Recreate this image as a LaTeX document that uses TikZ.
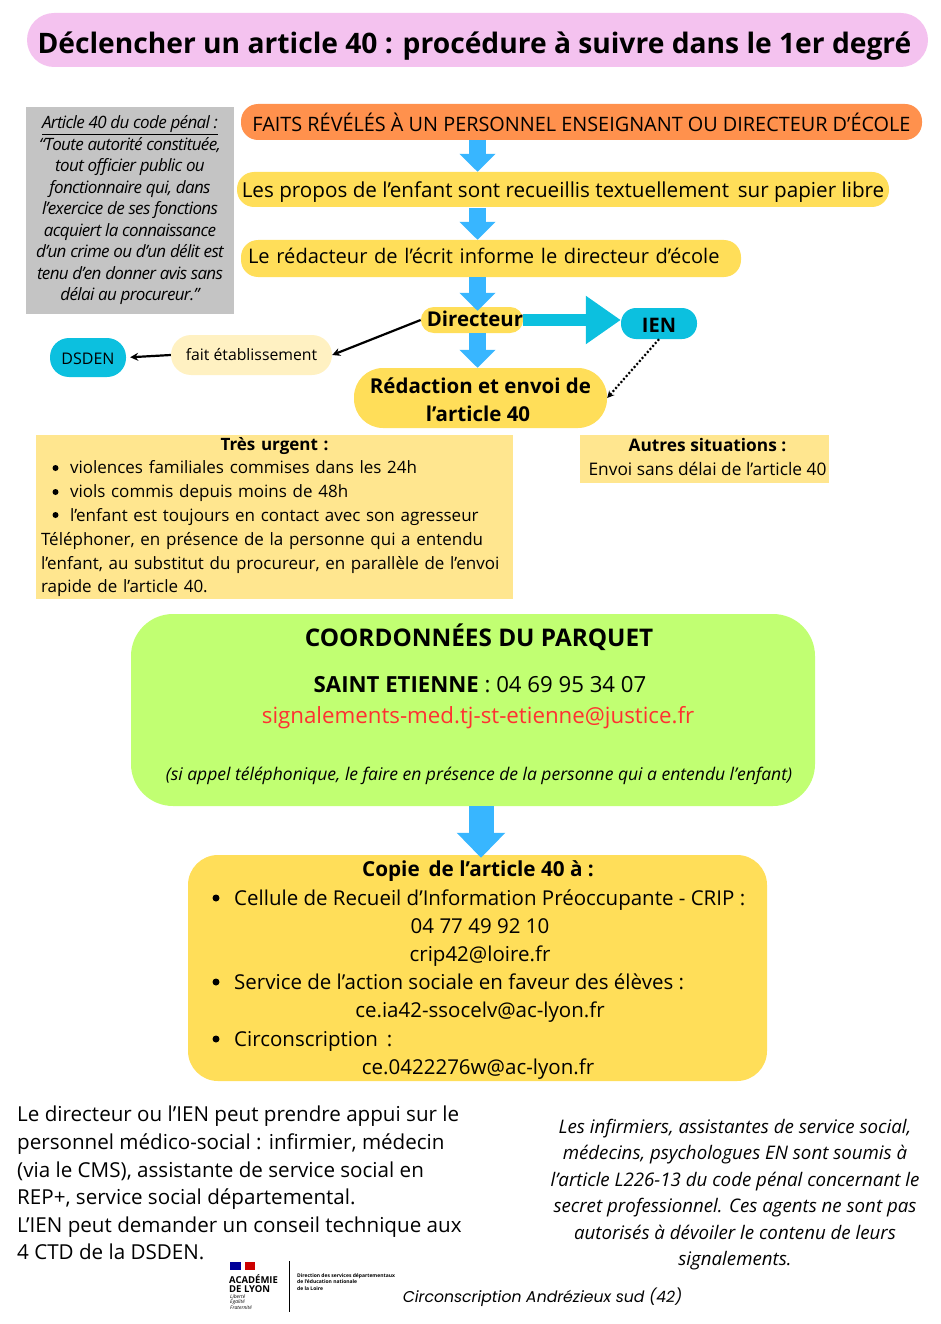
\documentclass[tikz,border=0pt]{standalone}
\usepackage{fontspec}
\setmainfont{Open Sans}
\newfontfamily\logofont{Poppins}
\newfontfamily\serre[LetterSpace=-3.8]{Open Sans}
\usetikzlibrary{arrows.meta}

\definecolor{rose}{HTML}{F4C2EF}
\definecolor{orangefaits}{HTML}{FF914D}
\definecolor{jaune}{HTML}{FFDE59}
\definecolor{jaunepale}{HTML}{FFE68F}
\definecolor{creme}{HTML}{FFF1C2}
\definecolor{cyanien}{HTML}{0CC0DF}
\definecolor{bleuflux}{HTML}{38B6FF}
\definecolor{vert}{HTML}{C1FF72}
\definecolor{gris}{HTML}{C4C4C4}
\definecolor{rouge}{HTML}{FF3131}

\newcommand{\taille}[2]{\fontsize{#1}{#2}\selectfont}
\newcommand{\puce}{\hspace*{29pt}}

\tikzset{
  pill/.style={rectangle, rounded corners=17pt, inner sep=0pt, text=black,
    align=center},
  carre/.style={rectangle, inner sep=0pt, text=black, align=center},
  base/.style={text height=#1, text depth=0pt},
  etape/.style={pill, fill=jaune, font=\taille{20.65}{27}},
  flux/.style={line width=17pt, bleuflux, -{Triangle[length=18pt,width=35pt]}},
  lien/.style={line width=2.2pt, black, -{Stealth[length=8pt,width=8pt]}},
  ligne/.style={inner sep=0pt, text=black, anchor=base},
  copie/.style={ligne, font=\taille{20.5}{27}}
}

\begin{document}
\begin{tikzpicture}[x=1pt, y=-1pt]
  \useasboundingbox (0,0) rectangle (940,1324);
  \coordinate (axe) at (477.5,0);

  % titre
  \node[pill, fill=rose, rounded corners=27pt, minimum width=901pt, minimum height=54pt, base=28pt,
    font=\bfseries\taille{28.2}{34}] (titre) at (477.5,40) {\hspace*{-6pt}Déclencher un article 40 : procédure à suivre dans le 1er degré};

  % article 40
  \node[carre, fill=gris, minimum width=208pt, minimum height=207pt,
    font=\serre\itshape\taille{17}{21.5}] (code) at (130,210.5) {\underline{Article 40 du code pénal :}\\
    “Toute autorité constituée,\\tout officier public ou\\fonctionnaire qui, dans\\l’exercice de ses fonctions\\acquiert la connaissance\\d’un crime ou d’un délit est\\tenu d’en donner avis sans\\délai au procureur.”};

  % etapes
  \node[etape, fill=orangefaits, minimum width=681pt, minimum height=36pt, base=20pt, font=\taille{19.85}{27}] (faits) at (581.5,122) {FAITS RÉVÉLÉS À UN PERSONNEL ENSEIGNANT OU DIRECTEUR D’ÉCOLE};
  \node[etape, minimum width=652pt, minimum height=35pt, base=17pt] (propos) at (563,189.5) {Les propos de l’enfant sont recueillis textuellement\, sur papier libre};
  \node[etape, minimum width=500pt, minimum height=37pt, base=9pt, text width=486pt, align=left, font=\taille{20.1}{27}] (redacteur) at (491,258.5) {Le rédacteur de l’écrit informe le directeur d’école};
  \node[pill, fill=jaune, rounded corners=13pt, minimum width=102pt, minimum height=26pt, base=12pt,
    font=\bfseries\taille{20.4}{24}] (directeur) at (472,320) {\hspace*{6pt}Directeur};
  \node[pill, fill=cyanien, rounded corners=15pt, minimum width=76pt, minimum height=31pt, base=17pt,
    font=\bfseries\taille{20}{24}] (ien) at (659,323.5) {IEN};
  \node[pill, fill=jaune, rounded corners=29pt, minimum width=253pt, minimum height=60pt, base=46pt,
    font=\bfseries\taille{20.5}{28}] (redaction) at (480.5,398) {Rédaction et envoi de\\\hspace*{-5pt}l’article 40};
  \node[pill, fill=creme, rounded corners=20pt, minimum width=161pt, minimum height=40pt, base=10pt,
    font=\taille{15.8}{22}] (fait) at (251.5,355) {fait établissement};
  \node[pill, fill=cyanien, rounded corners=19pt, minimum width=76pt, minimum height=39pt, base=13pt,
    font=\taille{16}{22}] (dsden) at (88,357.5) {DSDEN};

  % fleches
  \draw[flux] (faits.south -| axe) -- (propos.north -| axe);
  \draw[flux] (propos.south -| axe) ++(0,1) -- (redacteur.north -| axe);
  \draw[flux] (redacteur.south -| axe) -- ([yshift=-4pt]directeur.north -| axe);
  \draw[flux] (directeur.south -| axe) -- (redaction.north -| axe);
  \draw[line width=12pt, cyanien, -{Triangle[length=35pt,width=46pt]}] (directeur.east) -- (directeur.east -| ien.west);
  \draw[lien] (directeur.west) -- (fait.east);
  \draw[lien, shorten >=4pt] (fait.west) -- (dsden.east);
  \draw[line width=2.2pt, black, dash pattern=on 2pt off 2pt, -{Stealth[length=7pt,width=7pt]}] (ien.south) -- (redaction.east);

  % situations
  \node[carre, fill=jaunepale, minimum width=477pt, minimum height=164pt, text width=467pt, align=left,
    font=\taille{17}{23.8}] (urgent) at (274.5,517) {\makebox[467pt]{\bfseries Très urgent :}\\
    \puce violences familiales commises dans les 24h\\
    \puce viols commis depuis moins de 48h\\
    \puce l’enfant est toujours en contact avec son agresseur\\
    Téléphoner, en présence de la personne qui a entendu\\
    l’enfant, au substitut du procureur, en parallèle de l’envoi\\
    rapide de l’article 40.};
  \foreach \y in {468,492,515} {
    \fill[black] (55.5,\y) circle (3pt);
  }
  \node[carre, fill=jaunepale, minimum width=249pt, minimum height=48pt, base=33pt,
    font=\taille{17.3}{24}] (autres) at (704.5,459) {\hspace*{6pt}\textbf{Autres situations :}\\\hspace*{6pt}Envoi sans délai de l’article 40};

  % parquet
  \node[pill, fill=vert, rounded corners=42pt, minimum width=684pt, minimum height=192pt] (parquet) at (473,710) {};
  \node[ligne, font=\bfseries\taille{24.3}{28}] (coord) at (479,646) {COORDONNÉES DU PARQUET};
  \node[ligne, font=\taille{22.2}{28}] (tel) at (480,692) {\textbf{SAINT ETIENNE} : 04 69 95 34 07};
  \node[ligne, text=rouge, font=\taille{22.3}{28}] (mail) at (478,723) {signalements-med.tj-st-etienne@justice.fr};
  \node[ligne, font=\itshape\taille{17.5}{24}] (appel) at (479,780) {(si appel téléphonique, le faire en présence de la personne qui a entendu l’enfant)};

  % copie
  \node[pill, fill=jaune, rounded corners=30pt, minimum width=579pt, minimum height=226pt] (bloc) at (477.5,968) {};
  \draw[line width=25pt, bleuflux, -{Triangle[length=25pt,width=47pt]}] (parquet.south -| 481,0) -- ([yshift=-3pt]bloc.north -| 481,0);
  \node[ligne, font=\bfseries\taille{20.7}{27}] (copietitre) at (478,876) {Copie\, de l’article 40 à :};
  \node[copie, anchor=base west] (crip) at (234,905) {Cellule de Recueil d’Information Préoccupante - CRIP :};
  \node[copie] (criptel) at (480,933) {04 77 49 92 10};
  \node[copie] (cripmail) at (480,961) {crip42@loire.fr};
  \node[copie, anchor=base west] (service) at (234,989) {Service de l’action sociale en faveur des élèves :};
  \node[copie] (servmail) at (480,1017) {ce.ia42-ssocelv@ac-lyon.fr};
  \node[copie, anchor=base west] (circo) at (234,1046) {Circonscription\, :};
  \node[copie] (circomail) at (478,1074) {ce.0422276w@ac-lyon.fr};
  \foreach \y in {898,982,1039} {
    \fill[black] (216,\y) circle (3.5pt);
  }

  % notes du bas
  \node[ligne, anchor=north west, align=left, font=\taille{20.6}{27.6}] (gauche) at (17,1106) {Le directeur ou l’IEN peut prendre appui sur le\\
    personnel médico-social : infirmier, médecin\\
    (via le CMS), assistante de service social en\\
    REP+, service social départemental.\\
    L’IEN peut demander un conseil technique aux\\
    4 CTD de la DSDEN.};
  \node[ligne, anchor=north, align=center, font=\itshape\taille{18.7}{26.4}] (droite) at (735,1119) {Les infirmiers, assistantes de service social,\\
    médecins, psychologues EN sont soumis à\\
    l’article L226-13 du code pénal concernant le\\
    secret professionnel. Ces agents ne sont pas\\
    autorisés à dévoiler le contenu de leurs\\
    signalements.};

  % logo
  \fill[blue!60!black] (230,1262) rectangle (241,1270);
  \fill[red!80!black] (245,1262) rectangle (255,1270);
  \node[ligne, anchor=north west, align=left, font=\bfseries\taille{9.5}{9.5}] (academie) at (229,1274) {ACADÉMIE\\DE LYON};
  \node[ligne, anchor=north west, align=left, font=\itshape\taille{5}{5.5}] (devise) at (230,1294) {Liberté\\Égalité\\Fraternité};
  \draw[black] (289,1261) -- (289,1312);
  \node[ligne, anchor=north west, align=left, font=\bfseries\taille{5}{6.5}] (direction) at (297,1273) {Direction des services départementaux\\de l’éducation nationale\\de la Loire};
  \node[ligne, font=\logofont\itshape\taille{15.65}{22}] (circonscription) at (542.5,1302) {Circonscription Andrézieux sud (42)};
\end{tikzpicture}
\end{document}
